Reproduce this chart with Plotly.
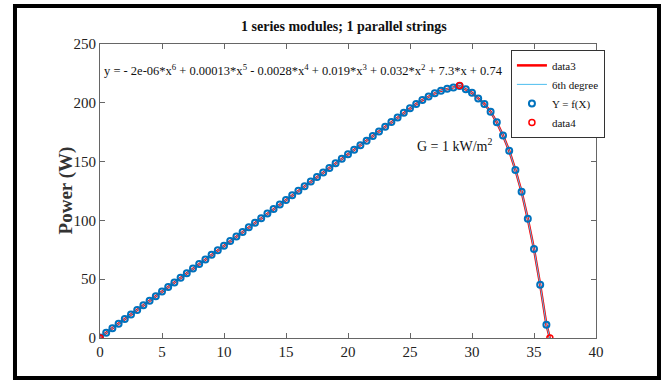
import plotly.graph_objects as go

# Sampled PV points (Y = f(X))
voltage = [0, 0.5, 1, 1.5, 2, 2.5, 3, 3.5, 4, 4.5, 5, 5.5, 6, 6.5, 7, 7.5, 8, 8.5, 9, 9.5,
           10, 10.5, 11, 11.5, 12, 12.5, 13, 13.5, 14, 14.5, 15, 15.5, 16, 16.5, 17, 17.5,
           18, 18.5, 19, 19.5, 20, 20.5, 21, 21.5, 22, 22.5, 23, 23.5, 24, 24.5, 25, 25.5,
           26, 26.5, 27, 27.5, 28, 28.5, 29, 29.5, 30, 30.5, 31, 31.5, 32, 32.5, 33, 33.5,
           34, 34.5, 35, 35.5, 36]
power = [0.5, 4.4, 8.3, 12.2, 16.1, 20.0, 23.9, 27.8, 31.7, 35.6, 39.5, 43.4, 47.3, 51.2,
         55.1, 59.0, 62.9, 66.8, 70.7, 74.6, 78.5, 82.4, 86.3, 90.2, 94.1, 98.0, 101.9,
         105.8, 109.6, 113.5, 117.4, 121.3, 125.2, 129.1, 133.0, 136.9, 140.7, 144.6,
         148.5, 152.4, 156.2, 160.1, 164.0, 167.8, 171.7, 175.5, 179.6, 183.6, 187.6,
         191.5, 195.3, 198.9, 202.3, 205.4, 208.1, 210.3, 212.0, 213.1, 214.3, 211.5,
         208.5, 203.7, 199.0, 192.4, 183.4, 172.1, 159.3, 142.9, 124.4, 101.3, 75.6,
         45.2, 11.3]

# Open-circuit end point of the measured curve (data3)
voc_v = [36.28]
voc_p = [0]

# Key points (data4): short circuit, MPP, open circuit
key_v = [0, 29.0, 36.28]
key_p = [0, 214.8, 0]

x_ticks = [0, 5, 10, 15, 20, 25, 30, 35, 40]
y_ticks = [0, 50, 100, 150, 200, 250]

SERIF = "Liberation Serif, Times New Roman, serif"

fig = go.Figure()
fig.add_trace(go.Scatter(x=voltage + voc_v, y=power + voc_p, mode="lines",
                         line=dict(color="#FF0000", width=2.5), name="data3"))
fig.add_trace(go.Scatter(x=voltage + voc_v, y=power + voc_p, mode="lines",
                         line=dict(color="#4DBEEE", width=1), name="6th degree"))
fig.add_trace(go.Scatter(x=voltage, y=power, mode="markers",
                         marker=dict(symbol="circle-open", size=6, color="#0072BD",
                                     line=dict(width=2, color="#0072BD")),
                         name="Y = f(X)"))
fig.add_trace(go.Scatter(x=key_v, y=key_p, mode="markers",
                         marker=dict(symbol="circle-open", size=6, color="#FF0000",
                                     line=dict(width=1.5, color="#FF0000")),
                         name="data4"))

axis_common = dict(showgrid=False, zeroline=False, showline=True, linecolor="#666",
                   linewidth=1, mirror="ticks", ticks="inside", ticklen=5,
                   tickcolor="#666", tickfont=dict(family=SERIF, size=15, color="#222"))

fig.update_xaxes(range=[0, 40], tickvals=x_ticks, **axis_common)
fig.update_yaxes(range=[0, 250], tickvals=y_ticks, **axis_common)

# y-axis title
fig.add_annotation(xref="paper", yref="paper", x=-0.068, y=0.503, xanchor="center",
                   yanchor="middle", textangle=-90, showarrow=False,
                   text="<b>Power (W)</b>", font=dict(family=SERIF, size=19, color="#333"))
fig.add_annotation(xref="paper", yref="paper", x=0.492, y=1.058, xanchor="center",
                   yanchor="middle", showarrow=False,
                   text="<b>1 series modules; 1 parallel strings</b>",
                   font=dict(family=SERIF, size=14, color="#111"))
fig.add_annotation(xref="paper", yref="paper", x=0.004, y=0.912, xanchor="left",
                   yanchor="middle", showarrow=False,
                   text="y = - 2e-06*x<sup>6</sup> + 0.00013*x<sup>5</sup> - 0.0028*x<sup>4</sup>"
                        " + 0.019*x<sup>3</sup> + 0.032*x<sup>2</sup> + 7.3*x + 0.74",
                   font=dict(family=SERIF, size=12.5, color="#111"))
fig.add_annotation(xref="paper", yref="paper", x=0.716, y=0.655, xanchor="center",
                   yanchor="middle", showarrow=False,
                   text="G = 1 kW/m<sup>2</sup>",
                   font=dict(family=SERIF, size=14, color="#111"))

# Outer black frame
fig.add_shape(type="rect", xref="paper", yref="paper", x0=-0.1714, x1=1.127,
              y0=-0.136, y1=1.129, line=dict(color="black", width=4))

fig.update_layout(
    width=666, height=383,
    margin=dict(l=100, r=70, t=44, b=45),
    paper_bgcolor="white", plot_bgcolor="white",
    legend=dict(x=1.018, xanchor="right", y=0.98, yanchor="top",
                bgcolor="white", bordercolor="#333", borderwidth=1,
                font=dict(family=SERIF, size=11, color="#111"),
                tracegroupgap=0, itemwidth=30),
    showlegend=True,
)

fig.write_html("out.html")
